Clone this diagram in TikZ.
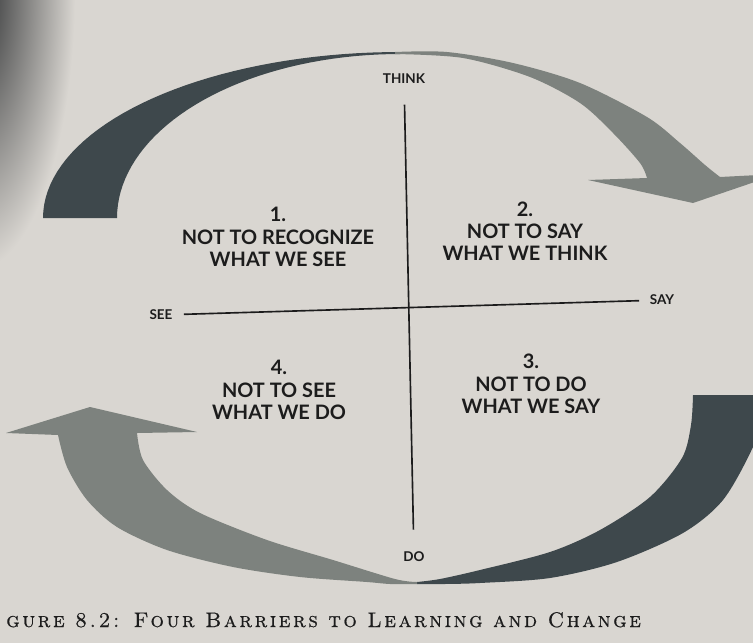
\documentclass[tikz,border=0pt]{standalone}
\usepackage{fontspec}
\setsansfont{Lato}
\newfontfamily\capfont[LetterSpace=12,FakeBold=0.6]{lmromancaps10-regular.otf}
\usetikzlibrary{calc}

\definecolor{paper}{HTML}{D9D6D1}
\definecolor{darkarm}{HTML}{3E484C}
\definecolor{greyarm}{HTML}{7D827E}
\definecolor{ink}{HTML}{1C1C1C}
\definecolor{shadow}{HTML}{2A2C2E}

\begin{document}
\begin{tikzpicture}[x=0.03cm,y=-0.03cm]\sffamily\bfseries
\def\xmax{753}
\def\ymax{643}

% Page of the book, in pixel units (y grows downwards)
\fill[paper] (0,0) rectangle (\xmax,\ymax);
\useasboundingbox (0,0) rectangle (\xmax,\ymax);
\clip (0,0) rectangle (\xmax,\ymax);

% Shadow of the camera in the top left corner
\shade[inner color=shadow, outer color=paper] (-25,-10) ellipse [x radius=100, y radius=280];

% Styles for the texts and the two axes
\tikzstyle{quad}=[align=center, text=ink, font=\sffamily\bfseries\fontsize{17}{19}\selectfont]
\tikzstyle{axislabel}=[text=ink, font=\sffamily\bfseries\fontsize{11.5}{13}\selectfont]
\tikzstyle{axis}=[draw=ink, line width=1.4pt]
\tikzstyle{capline}=[text=ink, inner sep=0pt, font={\capfont\mdseries\fontsize{18}{21}\selectfont}]

% The four arms of the circle: each one tapers to a point where it meets the next
% Top left: dark, from SEE up to THINK
\fill[darkarm] plot[domain=180:270, samples=40] ({400+357*cos(\x)},{218+166*sin(\x)})
  -- plot[domain=270:180, samples=40] ({400+283*cos(\x)},{218+164*sin(\x)}) -- cycle;

% Top right: grey, from THINK down to the arrow head pointing at SAY
\fill[greyarm] plot[smooth] coordinates {(395,52) (447,52) (513,63) (580,83) (647,117) (680,143) (705,165) (720,177)}
  -- (778,174) -- (693,203) -- (588,180)
  -- plot[smooth] coordinates {(647,178) (640,163) (613,133) (580,103) (530,77) (463,58) (395,54)} -- cycle;

% Bottom right: dark, from SAY down to DO
\fill[darkarm] plot[smooth] coordinates {(693,395) (691,425) (682,458) (650,497) (600,530) (550,552) (480,570) (440,579) (417,582)}
  -- plot[smooth] coordinates {(417,584) (445,584) (480,583) (550,578) (617,562) (683,533) (723,500) (753,447) (772,395)} -- cycle;

% Bottom left: grey, from DO up to the arrow head pointing at SEE
\fill[greyarm] plot[smooth] coordinates {(417,584) (390,584) (367,582) (300,577) (233,567) (167,550) (117,527) (87,500) (67,467) (58,435)}
  -- (6,433) -- (90,407) -- (197,432)
  -- plot[smooth] coordinates {(137,433) (143,460) (167,490) (200,513) (267,540) (333,560) (395,579) (417,582)} -- cycle;

% Labels at the ends of the axes
\node[axislabel] (think) at (404,79) {THINK};
\node[axislabel] (do) at (414,557) {DO};
\node[axislabel] (see) at (161,315) {SEE};
\node[axislabel] (say) at (662,300) {SAY};

% The axes
\draw[axis, shorten <=0.5cm, shorten >=0.55cm] (think) -- (do);
\draw[axis, shorten <=0.22cm, shorten >=0.2cm] (see) -- (say);

% The four barriers, one in each quadrant
\node[quad] (q1) at (278,237) {1.\\NOT TO RECOGNIZE\\WHAT WE SEE};
\node[quad] (q2) at (525,231) {2.\\NOT TO SAY\\WHAT WE THINK};
\node[quad] (q3) at (531,384) {3.\\NOT TO DO\\WHAT WE SAY};
\node[quad] (q4) at (279,390) {4.\\NOT TO SEE\\WHAT WE DO};

% Caption of the figure, cut off at the left edge of the photo
\node[capline, anchor=base west] (caption) at (6,627) {gure 8.2: Four Barriers to Learning and Change};

\end{tikzpicture}
\end{document}
